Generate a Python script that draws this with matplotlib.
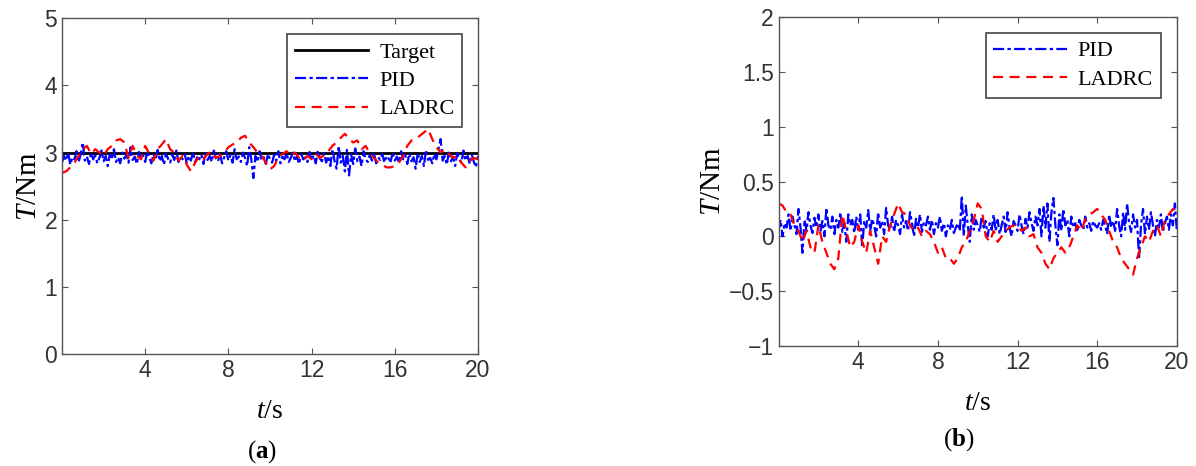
import numpy as np
import matplotlib.pyplot as plt

plt.rcParams['mathtext.fontset'] = 'custom'
plt.rcParams['mathtext.rm'] = 'Liberation Serif'
plt.rcParams['mathtext.it'] = 'Liberation Serif:italic'
plt.rcParams['mathtext.bf'] = 'Liberation Serif:bold'

# time bases (s)
t_fast = np.arange(201) * 0.1
t_slow = np.arange(101) * 0.2

target_a = 3.0

# (a) torque tracking, PID
pid_a = [
    2.85, 2.95, 2.88, 3.0, 2.82, 2.93, 2.9, 3.02, 2.86, 2.97, 3.15, 2.88, 2.94, 2.83, 3.0, 2.9, 2.96, 2.84, 2.92, 3.03,
    2.87, 2.95, 2.8, 2.98, 2.9, 3.05, 2.86, 2.93, 2.84, 3.0, 2.91, 2.97, 2.85, 3.08, 2.89, 2.94, 2.83, 3.01, 2.9, 2.96,
    2.86, 3.02, 2.92, 2.84, 2.98, 2.9, 3.04, 2.87, 2.95, 2.82, 2.99, 2.91, 2.85, 2.97, 2.89, 3.03, 2.86, 2.94, 2.9, 2.98,
    2.84, 2.95, 2.88, 3.01, 2.86, 2.93, 2.9, 2.97, 2.83, 3.0, 2.89, 2.95, 2.86, 3.03, 2.91, 2.87, 2.98, 2.84, 2.93, 3.02,
    2.88, 2.96, 2.85, 3.05, 2.9, 2.94, 2.86, 3.0, 2.92, 2.8, 3.08, 2.9, 2.62, 2.95, 2.86, 3.02, 2.88, 2.93, 2.83, 2.98,
    2.9, 2.85, 2.97, 2.88, 3.02, 2.84, 2.94, 2.9, 2.99, 2.86, 2.92, 3.0, 2.87, 2.95, 2.83, 2.98, 2.9, 2.93, 2.86, 3.01,
    2.89, 2.96, 2.84, 3.03, 2.91, 2.87, 2.99, 2.85, 2.95, 2.8, 3.05, 2.88, 2.76, 3.1, 2.85, 2.95, 2.72, 3.04, 2.66, 2.97,
    2.83, 3.06, 2.87, 2.94, 2.8, 3.02, 2.9, 2.86, 2.97, 2.88, 3.0, 2.84, 2.93, 2.89, 2.98, 2.85, 2.95, 2.91, 2.87, 3.0,
    2.88, 2.94, 2.85, 3.02, 2.9, 2.96, 2.83, 2.99, 2.87, 2.93, 2.76, 3.0, 2.86, 2.95, 2.8, 3.04, 2.89, 2.92, 2.84, 2.98,
    2.9, 3.05, 3.2, 2.88, 2.95, 2.82, 3.02, 2.87, 2.94, 2.8, 2.99, 2.9, 2.85, 3.03, 2.88, 2.95, 2.83, 2.97, 2.86, 2.78,
    2.95]

# (a) torque tracking, LADRC
ladrc_a = [
    2.7, 2.72, 2.78, 2.85, 2.95, 3.05, 3.1, 2.98, 3.05, 3.0,
    2.95, 3.05, 3.1, 3.18, 3.2, 3.15, 2.92, 3.1, 2.95, 2.9,
    3.1, 2.98, 2.88, 3.05, 3.12, 3.2, 3.05, 3.0, 2.88, 2.95,
    2.82, 2.72, 2.85, 2.95, 2.9, 2.98, 3.02, 2.92, 2.95, 3.0,
    3.08, 3.12, 3.15, 3.22, 3.25, 3.15, 3.08, 3.0, 2.95, 2.85,
    2.75, 2.8, 2.92, 2.98, 3.02, 2.95, 3.0, 2.92, 2.88, 2.95,
    2.9, 2.98, 2.92, 2.96, 3.02, 3.1, 3.15, 3.22, 3.28, 3.2,
    3.15, 3.18, 3.05, 3.1, 2.98, 2.92, 2.85, 2.82, 2.78, 2.78,
    2.8, 2.85, 2.95, 3.1, 3.18, 3.2, 3.25, 3.3, 3.35, 3.2,
    3.08, 3.0, 3.05, 2.98, 2.92, 2.95, 2.85, 2.78, 2.88, 2.92,
    2.9]

# (b) disturbance torque, PID
pid_b = [
    0.05, 0.15, 0.0, 0.12, 0.08, 0.2, 0.05, 0.18, 0.1, 0.02, 0.25, 0.08, -0.15, 0.15, 0.05, 0.22, 0.1, 0.03, 0.17, 0.08,
    0.2, 0.05, 0.14, 0.0, 0.26, 0.1, 0.06, 0.18, 0.02, 0.15, 0.08, 0.22, 0.04, 0.12, -0.05, 0.2, 0.1, 0.15, 0.03, 0.18,
    0.06, 0.2, -0.1, 0.14, 0.08, 0.24, 0.05, 0.16, 0.1, 0.0, 0.22, 0.08, 0.14, 0.02, 0.26, 0.1, 0.06, 0.18, 0.04, 0.15,
    0.1, 0.02, 0.2, 0.08, 0.14, 0.05, 0.22, 0.12, 0.0, 0.16, 0.08, 0.2, 0.04, 0.13, 0.1, 0.18, 0.06, 0.15, 0.02, 0.12,
    0.08, 0.18, 0.05, 0.12, 0.0, 0.1, 0.06, 0.15, 0.03, 0.08, 0.12, 0.05, 0.37, 0.0, 0.28, 0.1, -0.05, 0.2, 0.06, 0.15,
    0.1, 0.04, 0.18, 0.08, 0.14, 0.0, 0.12, 0.06, 0.2, 0.05, 0.15, 0.02, 0.1, 0.18, 0.04, 0.22, 0.08, 0.0, 0.14, 0.1,
    0.05, 0.2, 0.1, 0.02, 0.16, 0.08, 0.22, 0.12, 0.05, 0.18, 0.1, 0.25, 0.0, 0.28, 0.08, 0.3, -0.05, 0.22, 0.35, 0.1,
    -0.08, 0.2, 0.05, 0.25, 0.1, 0.15, 0.0, 0.18, 0.08, 0.12, 0.04, 0.15, 0.1, 0.06, 0.18, 0.08, 0.12, 0.05, 0.14, 0.1,
    0.08, 0.12, 0.06, 0.15, 0.1, 0.02, 0.2, 0.08, 0.14, 0.05, 0.25, 0.1, 0.0, 0.22, 0.06, 0.3, 0.12, 0.04, 0.2, 0.08,
    0.15, -0.2, 0.1, 0.25, 0.02, 0.18, 0.06, 0.22, 0.1, 0.0, 0.15, 0.08, 0.2, 0.04, 0.12, 0.18, 0.06, 0.2, 0.1, 0.3,
    0.05]

# (b) disturbance torque, LADRC
ladrc_b = [
    0.3, 0.28, 0.22, 0.2, 0.1, 0.05, -0.05, 0.05, -0.1, -0.15,
    0.1, -0.05, -0.15, -0.25, -0.3, -0.2, 0.2, 0.05, -0.1, -0.05,
    0.1, -0.05, -0.15, 0.05, -0.1, -0.25, 0.0, -0.05, 0.1, 0.2,
    0.3, 0.22, 0.2, 0.1, 0.05, 0.08, 0.0, 0.05, 0.02, -0.05,
    -0.15, -0.1, -0.2, -0.2, -0.25, -0.2, -0.1, -0.05, 0.05, 0.15,
    0.3, 0.25, 0.0, -0.05, 0.05, -0.05, 0.0, 0.05, 0.08, 0.1,
    0.1, 0.05, 0.08, 0.0, 0.02, -0.1, -0.15, -0.25, -0.3, -0.2,
    -0.15, -0.1, -0.15, -0.1, 0.0, 0.1, 0.05, 0.15, 0.2, 0.22,
    0.25, 0.2, 0.15, 0.05, -0.05, -0.1, -0.2, -0.25, -0.3, -0.35,
    -0.2, -0.1, 0.0, -0.05, 0.05, 0.1, 0.0, 0.15, 0.2, 0.25,
    0.2]

xticks = [4, 8, 12, 16, 20]
yticks_a = [0, 1, 2, 3, 4, 5]
yticks_b = [-1, -0.5, 0, 0.5, 1, 1.5, 2]
yticklabels_b = ['\u22121', '\u22120.5', '0', '0.5', '1', '1.5', '2']

serif = 'Liberation Serif'
axcol = '#555555'
pid_style = dict(color='#0000ff', ls=(0, (5, 1.5, 1.5, 1.5)), lw=1.6)
ladrc_style = dict(color='#ff0000', ls=(0, (4.5, 3)), lw=1.6)

fig = plt.figure(figsize=(11.96, 4.66), dpi=100)
ax1 = fig.add_axes([0.0518, 0.240, 0.3479, 0.721])
ax2 = fig.add_axes([0.651, 0.2575, 0.333, 0.706])


def style_axes(ax):
    ax.set_xlim(0, 20)
    ax.set_xticks(xticks)
    ax.tick_params(direction='in', top=True, right=True, length=4,
                   colors=axcol, labelcolor='#333333', labelsize=16.5)
    for lab in ax.get_xticklabels() + ax.get_yticklabels():
        lab.set_family('Liberation Sans')
    for sp in ax.spines.values():
        sp.set_color(axcol)
        sp.set_linewidth(1.0)
    ax.set_xlabel(r'$t$/s', family=serif, fontsize=20, labelpad=12)
    ax.set_ylabel(r'$T$/Nm', family=serif, fontsize=21, labelpad=2)


def add_legend(ax, anchor):
    leg = ax.legend(loc='upper right', bbox_to_anchor=anchor, borderaxespad=0,
                    prop={'family': serif, 'size': 16}, handlelength=3.3,
                    fancybox=False, framealpha=1, edgecolor='#444444',
                    borderpad=0.35, labelspacing=0.35, handletextpad=0.5)
    leg.get_frame().set_linewidth(1.2)


ax1.plot(t_fast, [target_a] * len(t_fast), color='black', lw=2.0, label='Target')
ax1.plot(t_fast, pid_a, label='PID', **pid_style)
ax1.plot(t_slow, ladrc_a, label='LADRC', **ladrc_style)
ax1.set_ylim(0, 5)
ax1.set_yticks(yticks_a)
style_axes(ax1)
add_legend(ax1, (0.962, 0.952))

ax2.plot(t_fast, pid_b, label='PID', **pid_style)
ax2.plot(t_slow, ladrc_b, label='LADRC', **ladrc_style)
ax2.set_ylim(-1, 2)
ax2.set_yticks(yticks_b)
ax2.set_yticklabels(yticklabels_b)
style_axes(ax2)
add_legend(ax2, (0.96, 0.951))

fig.text(262 / 1196, 1 - 452 / 466, r'($\mathbf{a}$)', family=serif, fontsize=18, ha='center', va='center')
fig.text(959 / 1196, 1 - 440 / 466, r'($\mathbf{b}$)', family=serif, fontsize=18, ha='center', va='center')

fig.savefig('out.png', dpi=100)
